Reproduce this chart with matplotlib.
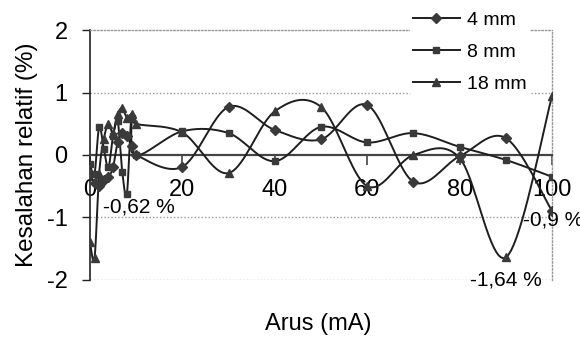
import numpy as np
import matplotlib
matplotlib.use("Agg")
import matplotlib.pyplot as plt

plt.rcParams['font.family'] = ['Liberation Sans', 'DejaVu Sans']
plt.rcParams['axes.unicode_minus'] = False

arus = [0, 1, 2, 3, 4, 5, 6, 7, 8, 9, 10, 20, 30, 40, 50, 60, 70, 80, 90, 100]
err_4mm = [-0.3, -0.45, -0.5, -0.4, -0.35, -0.2, 0.2, 0.35, 0.3, 0.15, 0.0,
           -0.19, 0.77, 0.4, 0.25, 0.8, -0.43, -0.02, 0.27, -0.9]
err_8mm = [-0.15, -0.3, 0.45, 0.1, -0.2, 0.3, 0.55, -0.27, -0.62, 0.6, 0.0,
           0.38, 0.35, -0.1, 0.45, 0.2, 0.35, 0.13, -0.08, -0.35]
err_18mm = [-1.4, -1.65, -0.3, 0.25, 0.5, 0.35, 0.65, 0.75, 0.6, 0.65, 0.5,
            0.36, -0.29, 0.7, 0.77, -0.5, 0.0, -0.05, -1.64, 0.95]
labels = ['4 mm', '8 mm', '18 mm']
markers = ['D', 's', '^']
xticks = [0, 20, 40, 60, 80, 100]
yticks = [-2, -1, 0, 1, 2]
annotations = ['-0,62 %', '-0,9 %', '-1,64 %']


def smooth(x, y, n=20):
    """Excel-like smoothed line (uniform Catmull-Rom / Bezier)."""
    x = np.asarray(x, float)
    y = np.asarray(y, float)
    P = np.column_stack([x, y])
    ext = np.vstack([P[0], P, P[-1]])
    out = []
    t = np.linspace(0, 1, n)[:, None]
    for i in range(len(P) - 1):
        p0, p1, p2, p3 = ext[i], ext[i + 1], ext[i + 2], ext[i + 3]
        c1 = p1 + (p2 - p0) / 6.0
        c2 = p2 - (p3 - p1) / 6.0
        seg = ((1 - t) ** 3) * p1 + 3 * ((1 - t) ** 2) * t * c1 + 3 * (1 - t) * t ** 2 * c2 + t ** 3 * p2
        out.append(seg if i == 0 else seg[1:])
    out = np.vstack(out)
    return out[:, 0], out[:, 1]


fig = plt.figure(figsize=(5.8, 3.38), dpi=100)
ax = fig.add_axes([0.155, 0.172, 0.797, 0.739])

col = '#1e1e1e'
for ys, m, lab in zip([err_4mm, err_8mm, err_18mm], markers, labels):
    ms = 6 if m == '^' else 5
    sx, sy = smooth(arus, ys)
    ax.plot(sx, sy, color=col, lw=1.4, zorder=3)
    ax.plot(arus, ys, linestyle='none', marker=m, color='#3a3a3a', ms=ms, zorder=4)
    ax.plot([], [], color=col, lw=1.4, marker=m, ms=ms,
            mfc='#3a3a3a', mec='#3a3a3a', label=lab)

ax.set_xlim(0, 100)
ax.set_ylim(-2, 2)
ax.set_yticks(yticks)
ax.set_xticks(xticks)
ax.set_xticklabels([str(v) for v in xticks])

# zero axis as bottom spine
ax.spines['bottom'].set_position(('data', 0))
ax.spines['bottom'].set_color('#444444')
ax.spines['bottom'].set_linewidth(1.6)
ax.spines['left'].set_color('#222222')
ax.spines['left'].set_linewidth(1.2)
for s in ['top', 'right']:
    ax.spines[s].set_linestyle((0, (1, 1.5)))
    ax.spines[s].set_color('#999999')
    ax.spines[s].set_linewidth(1.0)

ax.tick_params(axis='x', direction='out', length=7, width=1.2, color='#444444',
               labelsize=17, pad=10)
ax.tick_params(axis='y', direction='out', length=6, width=1.0, color='#222222',
               labelsize=17, pad=10)

for yv in [-2, -1, 1]:
    ax.axhline(yv, color='#999999', lw=1.0, linestyle=(0, (1, 1.5)), zorder=1)

ax.set_ylabel('Kesalahan relatif (%)', fontsize=17.5, labelpad=6)
fig.text(0.548, 0.04, 'Arus (mA)', fontsize=17, ha='center', va='center')

ax.text(2.8, -0.83, annotations[0], fontsize=15, ha='left', va='center')
ax.text(93.7, -1.04, annotations[1], fontsize=15, ha='left', va='center', clip_on=False)
ax.text(90.0, -2.0, annotations[2], fontsize=15, ha='center', va='center')

leg = ax.legend(loc='upper left', bbox_to_anchor=(0.69, 1.005), bbox_transform=fig.transFigure,
                frameon=True, fontsize=14, handlelength=2.4, handletextpad=0.4,
                labelspacing=0.75, numpoints=1, borderpad=0.15)
leg.get_frame().set_edgecolor('none')
leg.get_frame().set_facecolor('white')
leg.get_frame().set_alpha(1)
leg.set_zorder(5)

fig.savefig('out.png', dpi=100)
